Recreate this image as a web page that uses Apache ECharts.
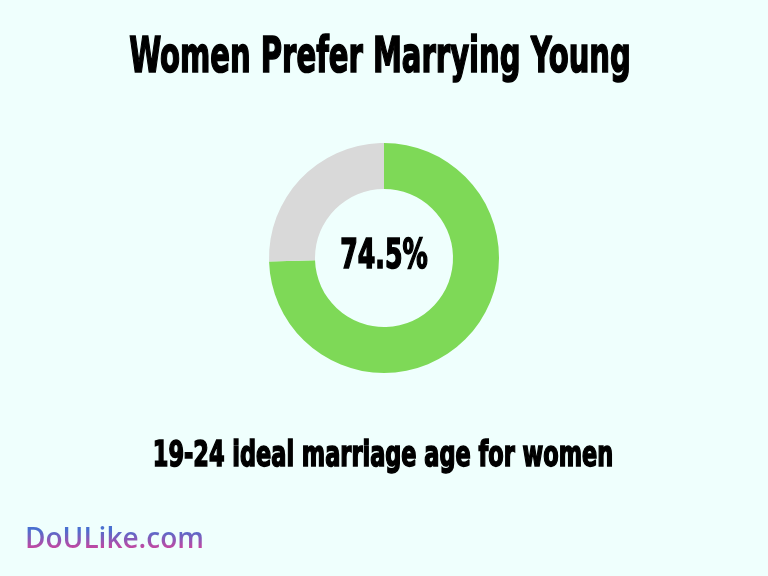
<!DOCTYPE html>
<html>
<head>
<meta charset="utf-8">
<script src="https://cdn.jsdelivr.net/npm/echarts@6/dist/echarts.min.js"></script>
<style>
html,body{margin:0;padding:0;background:#effffd;}
#main{width:768px;height:576px;}
</style>
</head>
<body>
<div id="main"></div>
<script>
const titleText = 'Women Prefer Marrying Young';
const subtitleText = '19-24 ideal marriage age for women';
const categories = ['Ages 19-24', 'Other'];
const values = [74.5, 25.5];
const colors = ['#7ed957', '#d9d9d9'];
const centerLabel = '74.5%';
const brand = 'DoULike.com';

const chart = echarts.init(document.getElementById('main'), null, {renderer: 'canvas'});
const heavy = '"DejaVu Sans Condensed", "DejaVu Sans", sans-serif';

function heavyText(text, x, y, size, sx) {
  return {
    type: 'text',
    x: x, y: y,
    scaleX: sx,
    silent: true,
    style: {
      text: text,
      x: 0, y: 0,
      align: 'center',
      verticalAlign: 'middle',
      font: 'bold ' + size + 'px ' + heavy,
      fill: '#000',
      stroke: '#000',
      lineWidth: 1.6
    }
  };
}

chart.setOption({
  backgroundColor: 'transparent',
  animation: false,
  series: [{
    type: 'pie',
    center: [384, 258],
    radius: [69, 115],
    startAngle: 90,
    clockwise: true,
    label: {show: false},
    labelLine: {show: false},
    silent: true,
    data: categories.map((c, i) => ({name: c, value: values[i], itemStyle: {color: colors[i]}}))
  }],
  graphic: [
    heavyText(titleText, 380, 59, 50, 0.646),
    heavyText(centerLabel, 384, 258, 40, 0.70),
    heavyText(subtitleText, 383, 457, 35, 0.712),
    {
      type: 'text',
      x: 25, y: 540,
      z: 10,
      silent: true,
      style: {
        text: brand,
        x: 0, y: 0,
        align: 'left',
        verticalAlign: 'middle',
        font: '600 28px "Open Sans", sans-serif',
        fill: '#000'
      }
    },
    {
      type: 'rect',
      z: 20,
      silent: true,
      shape: {x: 18, y: 518, width: 200, height: 42},
      style: {
        blend: 'source-atop',
        fill: new echarts.graphic.LinearGradient(0, 0, 0, 1, [
          {offset: 0, color: '#4a6fd0'},
          {offset: 0.28, color: '#4a6fd0'},
          {offset: 0.8, color: '#dc3f98'},
          {offset: 1, color: '#dc3f98'}
        ])
      }
    }
  ]
});
</script>
</body>
</html>
